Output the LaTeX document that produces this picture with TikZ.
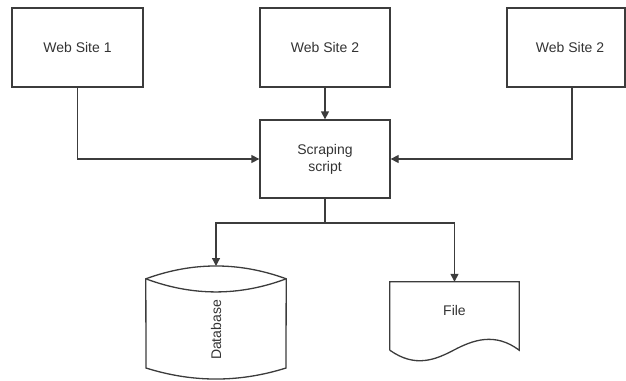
\documentclass[tikz,border=0pt]{standalone}
\usepackage{fontspec}
\setmainfont{Liberation Sans}
\usetikzlibrary{arrows.meta}
\definecolor{ink}{HTML}{3C3C3C}
\definecolor{txt}{HTML}{333333}
\begin{document}
\begin{tikzpicture}[x=1pt,y=-1pt,
  line/.style={draw=ink, line width=1.3pt, line join=miter},
  box/.style={line, rectangle, inner sep=0pt, align=center,
    text=txt, font=\fontsize{14}{17}\selectfont},
  area/.style={rectangle, inner sep=0pt},
  lbl/.style={inner sep=0pt, text=txt, font=\fontsize{14}{17}\selectfont},
  flow/.style={line, -{Triangle[length=8pt,width=8pt]}}]
\useasboundingbox (0,0) rectangle (626,380);

% web site boxes
\node[box, minimum width=131pt, minimum height=79pt] (ws1) at (77.5,47.5) {Web Site 1};
\node[box, minimum width=130pt, minimum height=79pt] (ws2) at (325,47.5) {Web Site 2};
\node[box, minimum width=118pt, minimum height=79pt] (ws3) at (566,47.5) {};
\node[lbl] (ws3t) at (570,47.5) {Web Site 2};

% scraper
\node[box, minimum width=130pt, minimum height=78pt] (scr) at (325,159) {Scraping\\script};

% database: cylinder with a lens-shaped top
\node[area, minimum width=140pt, minimum height=89pt] (db) at (216,279+44.5) {};
\draw[line]
  (db.north west) .. controls (192.7,261.7) and (239.3,261.7) .. (db.north east)
  -- (286,368) .. controls (239.3,382.7) and (192.7,382.7) .. (146,368) -- cycle;
\draw[line] (db.north west) .. controls (192.7,296.3) and (239.3,296.3) .. (db.north east);
\coordinate (dbtop) at (216,266);
\node[lbl, rotate=90] (dbt) at (216,330) {Database};

% file: document with a wavy bottom edge
\node[area, minimum width=129pt, minimum height=68pt] (file) at (454.5,316) {};
\draw[line]
  (file.south west) -- (file.north west) -- (file.north east) -- (file.south east)
  .. controls (495,332) and (473,340) .. (454,350)
  .. controls (435,360) and (415,368) .. (file.south west);
\node[lbl] (filet) at (454.5,310) {File};

% connectors
\draw[flow] (ws1.south) |- (scr.west);
\draw[flow] (ws2.south) -- (scr.north);
\draw[flow] ([xshift=6pt]ws3.south) |- (scr.east);
\coordinate (split) at (325,223);
\draw[flow] (scr.south) -- (split) -| (dbtop);
\draw[flow] (split) -| (file.north);
\end{tikzpicture}
\end{document}
